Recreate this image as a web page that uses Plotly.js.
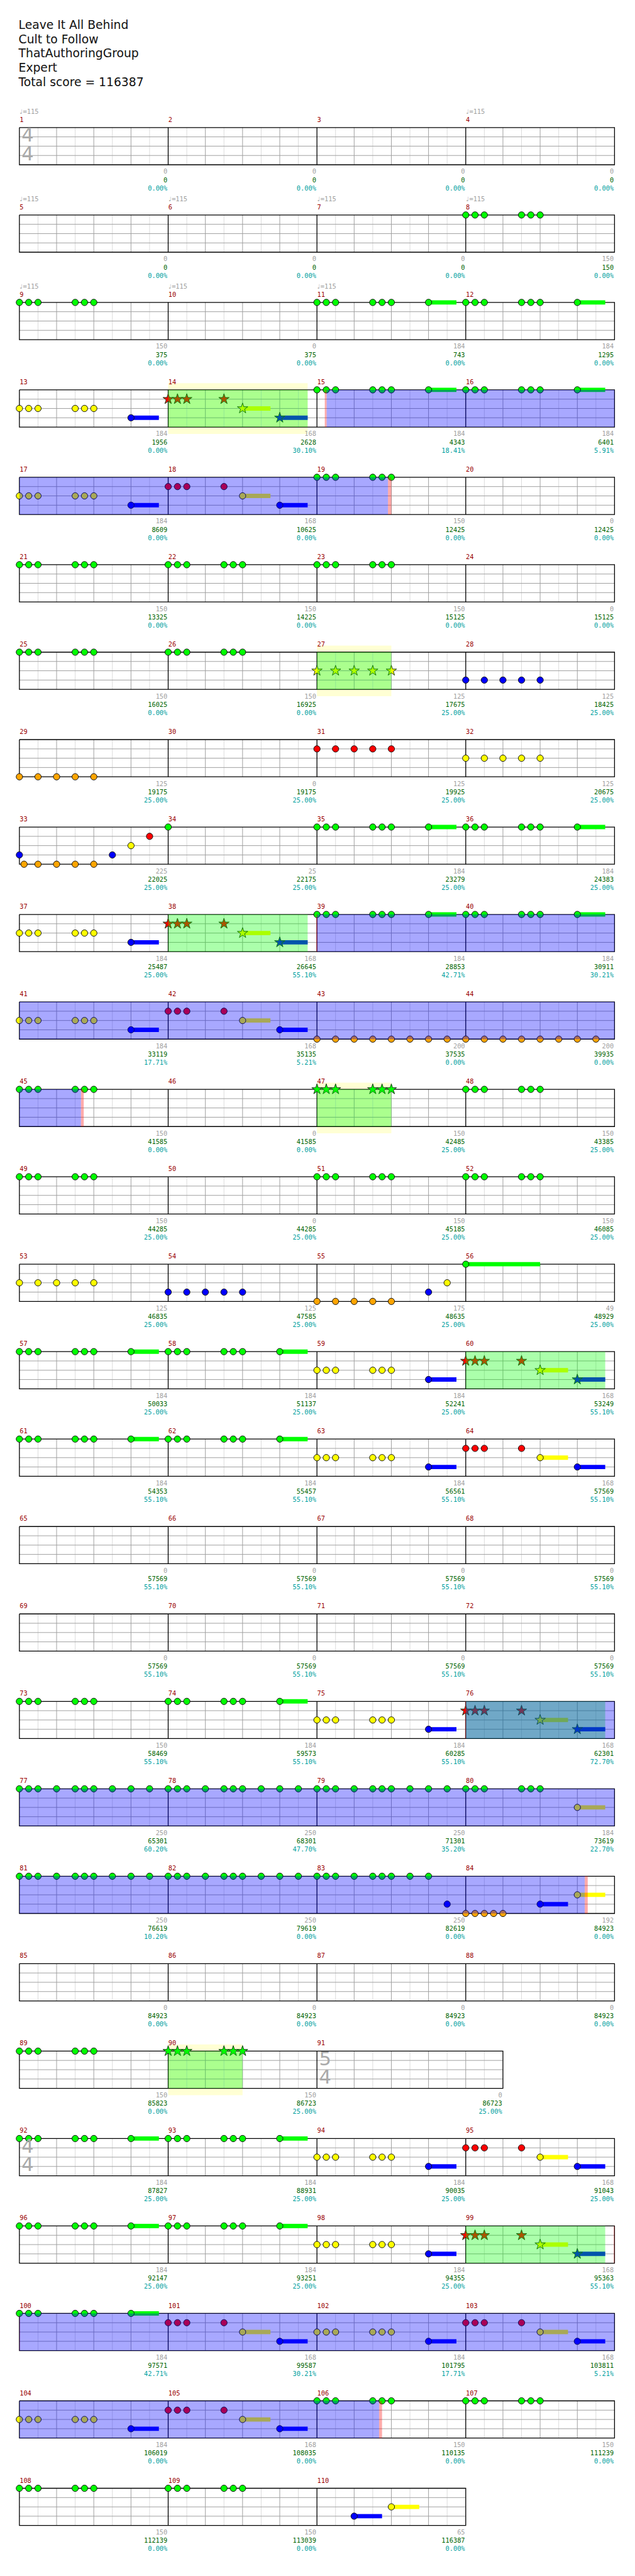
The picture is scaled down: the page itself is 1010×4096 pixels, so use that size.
<!DOCTYPE html>
<html><head><meta charset="utf-8">
<script src="https://cdn.plot.ly/plotly-3.0.1.min.js"></script>
<style>html,body{margin:0;padding:0;background:#fff}</style>
</head><body><div id="chart" style="width:1010px;height:4096px"></div>
<script>
// ================= DATA =================
const titleLines = ["Leave It All Behind", "Cult to Follow", "ThatAuthoringGroup", "Expert", "Total score = 116387"];
const measureCount = 110;
const oddMeasureBeats = {91: 5};
const timeSigs = [[1, "4", "4"], [91, "5", "4"], [92, "4", "4"]];
const tempoMeasures = [1, 4, 5, 6, 7, 8, 9, 10, 11];
const tempoLabel = "\u2669=115";

// lane letter, optional * = star note, beat within measure, optional ~sustain end beat
const measureNotes = {
  8: "G0 G.25 G.5 G1.5 G1.75 G2",
  9: "G0 G.25 G.5 G1.5 G1.75 G2",
  11: "G0 G.25 G.5 G1.5 G1.75 G2 G3~3.75",
  12: "G0 G.25 G.5 G1.5 G1.75 G2 G3~3.75",
  13: "Y0 Y.25 Y.5 Y1.5 Y1.75 Y2 B3~3.75",
  14: "R*0 R*.25 R*.5 R*1.5 Y*2~2.75 B*3~3.75",
  15: "G0 G.25 G.5 G1.5 G1.75 G2 G3~3.75",
  16: "G0 G.25 G.5 G1.5 G1.75 G2 G3~3.75",
  17: "Y0 Y.25 Y.5 Y1.5 Y1.75 Y2 B3~3.75",
  18: "R0 R.25 R.5 R1.5 Y2~2.75 B3~3.75",
  19: "G0 G.25 G.5 G1.5 G1.75 G2",
  21: "G0 G.25 G.5 G1.5 G1.75 G2",
  22: "G0 G.25 G.5 G1.5 G1.75 G2",
  23: "G0 G.25 G.5 G1.5 G1.75 G2",
  25: "G0 G.25 G.5 G1.5 G1.75 G2",
  26: "G0 G.25 G.5 G1.5 G1.75 G2",
  27: "Y*0 Y*.5 Y*1 Y*1.5 Y*2",
  28: "B0 B.5 B1 B1.5 B2",
  29: "O0 O.5 O1 O1.5 O2",
  31: "R0 R.5 R1 R1.5 R2",
  32: "Y0 Y.5 Y1 Y1.5 Y2",
  33: "B0 O.125 O.5 O1 O1.5 O2 B2.5 Y3 R3.5",
  34: "G0",
  35: "G0 G.25 G.5 G1.5 G1.75 G2 G3~3.75",
  36: "G0 G.25 G.5 G1.5 G1.75 G2 G3~3.75",
  37: "Y0 Y.25 Y.5 Y1.5 Y1.75 Y2 B3~3.75",
  38: "R*0 R*.25 R*.5 R*1.5 Y*2~2.75 B*3~3.75",
  39: "G0 G.25 G.5 G1.5 G1.75 G2 G3~3.75",
  40: "G0 G.25 G.5 G1.5 G1.75 G2 G3~3.75",
  41: "Y0 Y.25 Y.5 Y1.5 Y1.75 Y2 B3~3.75",
  42: "R0 R.25 R.5 R1.5 Y2~2.75 B3~3.75",
  43: "O0 O.5 O1 O1.5 O2 O2.5 O3 O3.5",
  44: "O0 O.5 O1 O1.5 O2 O2.5 O3 O3.5",
  45: "G0 G.25 G.5 G1.5 G1.75 G2",
  47: "G*0 G*.25 G*.5 G*1.5 G*1.75 G*2",
  48: "G0 G.25 G.5 G1.5 G1.75 G2",
  49: "G0 G.25 G.5 G1.5 G1.75 G2",
  51: "G0 G.25 G.5 G1.5 G1.75 G2",
  52: "G0 G.25 G.5 G1.5 G1.75 G2",
  53: "Y0 Y.5 Y1 Y1.5 Y2",
  54: "B0 B.5 B1 B1.5 B2",
  55: "O0 O.5 O1 O1.5 O2 B3 Y3.5",
  56: "G0~2",
  57: "G0 G.25 G.5 G1.5 G1.75 G2 G3~3.75",
  58: "G0 G.25 G.5 G1.5 G1.75 G2 G3~3.75",
  59: "Y0 Y.25 Y.5 Y1.5 Y1.75 Y2 B3~3.75",
  60: "R*0 R*.25 R*.5 R*1.5 Y*2~2.75 B*3~3.75",
  61: "G0 G.25 G.5 G1.5 G1.75 G2 G3~3.75",
  62: "G0 G.25 G.5 G1.5 G1.75 G2 G3~3.75",
  63: "Y0 Y.25 Y.5 Y1.5 Y1.75 Y2 B3~3.75",
  64: "R0 R.25 R.5 R1.5 Y2~2.75 B3~3.75",
  73: "G0 G.25 G.5 G1.5 G1.75 G2",
  74: "G0 G.25 G.5 G1.5 G1.75 G2 G3~3.75",
  75: "Y0 Y.25 Y.5 Y1.5 Y1.75 Y2 B3~3.75",
  76: "R*0 R*.25 R*.5 R*1.5 Y*2~2.75 B*3~3.75",
  77: "G0 G.25 G.5 G1 G1.5 G1.75 G2 G2.5 G3 G3.5",
  78: "G0 G.25 G.5 G1 G1.5 G1.75 G2 G2.5 G3 G3.5",
  79: "G0 G.25 G.5 G1 G1.5 G1.75 G2 G2.5 G3 G3.5",
  80: "G0 G.25 G.5 G1.5 G1.75 G2 Y3~3.75",
  81: "G0 G.25 G.5 G1 G1.5 G1.75 G2 G2.5 G3 G3.5",
  82: "G0 G.25 G.5 G1 G1.5 G1.75 G2 G2.5 G3 G3.5",
  83: "G0 G.25 G.5 G1 G1.5 G1.75 G2 G2.5 G3 B3.5",
  84: "O0 O.25 O.5 O.75 O1 B2~2.75 Y3~3.75",
  89: "G0 G.25 G.5 G1.5 G1.75 G2",
  90: "G*0 G*.25 G*.5 G*1.5 G*1.75 G*2",
  92: "G0 G.25 G.5 G1.5 G1.75 G2 G3~3.75",
  93: "G0 G.25 G.5 G1.5 G1.75 G2 G3~3.75",
  94: "Y0 Y.25 Y.5 Y1.5 Y1.75 Y2 B3~3.75",
  95: "R0 R.25 R.5 R1.5 Y2~2.75 B3~3.75",
  96: "G0 G.25 G.5 G1.5 G1.75 G2 G3~3.75",
  97: "G0 G.25 G.5 G1.5 G1.75 G2 G3~3.75",
  98: "Y0 Y.25 Y.5 Y1.5 Y1.75 Y2 B3~3.75",
  99: "R*0 R*.25 R*.5 R*1.5 Y*2~2.75 B*3~3.75",
  100: "G0 G.25 G.5 G1.5 G1.75 G2 G3~3.75",
  101: "R0 R.25 R.5 R1.5 Y2~2.75 B3~3.75",
  102: "Y0 Y.25 Y.5 Y1.5 Y1.75 Y2 B3~3.75",
  103: "R0 R.25 R.5 R1.5 Y2~2.75 B3~3.75",
  104: "Y0 Y.25 Y.5 Y1.5 Y1.75 Y2 B3~3.75",
  105: "R0 R.25 R.5 R1.5 Y2~2.75 B3~3.75",
  106: "G0 G.25 G.5 G1.5 G1.75 G2",
  107: "G0 G.25 G.5 G1.5 G1.75 G2",
  108: "G0 G.25 G.5 G1.5 G1.75 G2",
  109: "G0 G.25 G.5 G1.5 G1.75 G2",
  110: "B1~1.75 Y2~2.75"
};

const measureScore = [0,0,0,0, 0,0,0,150, 150,0,184,184, 184,168,184,184, 184,168,150,0,
  150,150,150,0, 150,150,125,125, 125,0,125,125, 225,25,184,184, 184,168,184,184,
  184,168,200,200, 150,0,150,150, 150,0,150,150, 125,125,175,49, 184,184,184,168,
  184,184,184,168, 0,0,0,0, 0,0,0,0, 150,184,184,168, 250,250,250,184,
  250,250,250,192, 0,0,0,0, 150,150,0, 184,184,184,168, 184,184,184,168,
  184,168,184,168, 184,168,150,150, 150,150,65];
const totalScore = [0,0,0,0, 0,0,0,150, 375,375,743,1295, 1956,2628,4343,6401, 8609,10625,12425,12425,
  13325,14225,15125,15125, 16025,16925,17675,18425, 19175,19175,19925,20675, 22025,22175,23279,24383,
  25487,26645,28853,30911, 33119,35135,37535,39935, 41585,41585,42485,43385, 44285,44285,45185,46085,
  46835,47585,48635,48929, 50033,51137,52241,53249, 54353,55457,56561,57569, 57569,57569,57569,57569,
  57569,57569,57569,57569, 58469,59573,60285,62301, 65301,68301,71301,73619, 76619,79619,82619,84923,
  84923,84923,84923,84923, 85823,86723,86723, 87827,88931,90035,91043, 92147,93251,94355,95363,
  97571,99587,101795,103811, 106019,108035,110135,111239, 112139,113039,116387];
const spPercent = ["0.00%","0.00%","0.00%","0.00%", "0.00%","0.00%","0.00%","0.00%", "0.00%","0.00%","0.00%","0.00%",
  "0.00%","30.10%","18.41%","5.91%", "0.00%","0.00%","0.00%","0.00%", "0.00%","0.00%","0.00%","0.00%",
  "0.00%","0.00%","25.00%","25.00%", "25.00%","25.00%","25.00%","25.00%", "25.00%","25.00%","25.00%","25.00%",
  "25.00%","55.10%","42.71%","30.21%", "17.71%","5.21%","0.00%","0.00%", "0.00%","0.00%","25.00%","25.00%",
  "25.00%","25.00%","25.00%","25.00%", "25.00%","25.00%","25.00%","25.00%", "25.00%","25.00%","25.00%","55.10%",
  "55.10%","55.10%","55.10%","55.10%", "55.10%","55.10%","55.10%","55.10%", "55.10%","55.10%","55.10%","55.10%",
  "55.10%","55.10%","55.10%","72.70%", "60.20%","47.70%","35.20%","22.70%", "10.20%","0.00%","0.00%","0.00%",
  "0.00%","0.00%","0.00%","0.00%", "0.00%","25.00%","25.00%", "25.00%","25.00%","25.00%","25.00%",
  "25.00%","25.00%","25.00%","55.10%", "42.71%","30.21%","17.71%","5.21%", "0.00%","0.00%","0.00%","0.00%",
  "0.00%","0.00%","0.00%"];

// spans: [startMeasure, startBeat, endMeasure, endBeat]
const phraseSpans = [[14,0,14,3.75],[27,0,27,2],[38,0,38,3.75],[47,0,47,2],[60,0,60,3.75],
  [76,0,76,3.75],[90,0,90,2],[99,0,99,3.75]];
const bandSpans = [[14,0,14,3.75],[27,0,27,2],[47,0,47,2],[90,0,90,2]];
const activationSpans = [[15,0.26,19,1.91],[39,0,45,1.655],[76,0,84,3.2],[100,0,106,1.67]];
const markerSpans = [[15,0.21,15,0.26],[19,1.91,19,2.0],[38,3.98,39,0.01],[45,1.655,45,1.73],
  [75,3.98,76,0.01],[84,3.2,84,3.28],[99,3.98,100,0.01],[106,1.67,106,1.75]];

// ================= LAYOUT HELPERS =================
const S = 0.986;                 // page scale
const PXB = 60, PXL = 15;        // reference px per beat / per lane
const LEFT = 31.3, TOP0 = 205.7, ROWSTEP = 141;
const W = 1010, H = 4096;
const beatsOf = m => oddMeasureBeats[m] || 4;
const rowOf = {}, xOf = {}, absOf = {};
const rowAbsStart = [], rowWidth = [];
let r = 0, x = 0, abs = 0;
rowAbsStart.push(0);
for (let m = 1; m <= measureCount; m++) {
  const b = beatsOf(m);
  if (x + b > 16) { rowWidth.push(x); r++; x = 0; rowAbsStart.push(abs); }
  rowOf[m] = r; xOf[m] = x; absOf[m] = abs; x += b; abs += b;
}
rowWidth.push(x);
const nRows = r + 1;
const rowTop = k => (TOP0 + ROWSTEP * k) / PXL;   // in lane units (y downward)
const px2y = p => p / PXL;

function splitSpan(sp) {
  const A1 = absOf[sp[0]] + sp[1], A2 = absOf[sp[2]] + sp[3];
  const out = [];
  for (let k = 0; k < nRows; k++) {
    const rs = rowAbsStart[k], re = rs + rowWidth[k];
    const a = Math.max(A1, rs), b = Math.min(A2, re);
    if (b > a) out.push([k, a - rs, b - rs]);
  }
  return out;
}
function rectTrace(spans, padTop, padBot, color) {
  const xs = [], ys = [];
  spans.forEach(sp => splitSpan(sp).forEach(([k, a, b]) => {
    const t = rowTop(k) - padTop, bt = rowTop(k) + 4 + padBot;
    xs.push(a, b, b, a, a, null); ys.push(t, t, bt, bt, t, null);
  }));
  return {type: 'scatter', mode: 'lines', x: xs, y: ys, fill: 'toself', fillcolor: color,
          line: {width: 0, color: 'rgba(0,0,0,0)'}, hoverinfo: 'skip'};
}
function lineTrace(xs, ys, color, width) {
  return {type: 'scatter', mode: 'lines', x: xs, y: ys, line: {color: color, width: width},
          hoverinfo: 'skip', connectgaps: false};
}

const traces = [];
traces.push(rectTrace(bandSpans, px2y(10.7), px2y(11), 'rgba(255,255,0,0.17)'));

const lx = [], ly = [], gx = [], gy = [], kx = [], ky = [];
for (let k = 0; k < nRows; k++) {
  const t = rowTop(k), b = t + 4, w = rowWidth[k];
  for (let h = 0.5; h < w; h += 1) { lx.push(h, h, null); ly.push(t, b, null); }
  for (let l = 1; l <= 3; l++) { gx.push(0, w, null); gy.push(t + l, t + l, null); }
}
for (let m = 1; m <= measureCount; m++) {
  const k = rowOf[m], t = rowTop(k), b = t + 4;
  for (let q = 1; q < beatsOf(m); q++) { gx.push(xOf[m] + q, xOf[m] + q, null); gy.push(t, b, null); }
  if (xOf[m] > 0) { kx.push(xOf[m], xOf[m], null); ky.push(t, b, null); }
}
for (let k = 0; k < nRows; k++) {
  const t = rowTop(k), b = t + 4, w = rowWidth[k];
  kx.push(0, w, w, 0, 0, null); ky.push(t, t, b, b, t, null);
}
traces.push(lineTrace(lx, ly, '#dcdcdc', 1));
traces.push(lineTrace(gx, gy, '#a0a0a0', 1));
traces.push(lineTrace(kx, ky, '#000000', 1.3));

const laneIdx = {G: 0, R: 1, Y: 2, B: 3, O: 4};
const laneCol = {G: '#00ff00', R: '#ff0000', Y: '#ffff00', B: '#0000ff', O: '#ffa500'};
const sus = {G: [[], []], R: [[], []], Y: [[], []], B: [[], []], O: [[], []]};
const cN = {x: [], y: [], c: []}, sN = {x: [], y: [], c: []};
Object.keys(measureNotes).forEach(key => {
  const m = +key;
  measureNotes[key].split(/\s+/).forEach(tok => {
    const mt = tok.match(/^([GRYBO])(\*?)([\d.]+)(?:~([\d.]+))?$/);
    if (!mt) return;
    const L = mt[1], star = mt[2] === '*', beat = parseFloat(mt[3]);
    const xx = xOf[m] + beat, yy = rowTop(rowOf[m]) + laneIdx[L];
    if (mt[4] !== undefined) {
      sus[L][0].push(xx, xOf[m] + parseFloat(mt[4]), null);
      sus[L][1].push(yy, yy, null);
    }
    const tgt = star ? sN : cN;
    tgt.x.push(xx); tgt.y.push(yy); tgt.c.push(laneCol[L]);
  });
});
Object.keys(sus).forEach(L => traces.push(lineTrace(sus[L][0], sus[L][1], laneCol[L], 7 * S)));
traces.push({type: 'scatter', mode: 'markers', x: cN.x, y: cN.y, hoverinfo: 'skip',
  marker: {symbol: 'circle', size: 10.2, color: cN.c, line: {color: '#111', width: 1}}});
traces.push({type: 'scatter', mode: 'markers', x: sN.x, y: sN.y, hoverinfo: 'skip',
  marker: {symbol: 'star', size: 12.5, color: sN.c, line: {color: '#1a3a1a', width: 1}}});

traces.push(rectTrace(phraseSpans, 0, 0, 'rgba(0,255,0,0.33)'));
traces.push(rectTrace(activationSpans, 0, 0, 'rgba(0,0,255,0.34)'));
traces.push(rectTrace(markerSpans, 0, 0, 'rgba(255,0,0,0.33)'));

const monoFont = 'DejaVu Sans Mono, monospace';
function textTrace(xs, ys, texts, color, size, pos, family) {
  return {type: 'scatter', mode: 'text', x: xs, y: ys, text: texts, textposition: pos,
    textfont: {family: family || monoFont, size: size * S, color: color}, hoverinfo: 'skip'};
}
traces.push(textTrace(titleLines.map(() => (30 - LEFT) / PXB), titleLines.map((_, i) => px2y(42 + 23 * i)),
  titleLines, '#111111', 19, 'middle right', 'DejaVu Sans, sans-serif'));
const mnX = [], mnY = [], mnT = [];
const scX = [], g1 = [], g2 = [], g3 = [], t1 = [], t2 = [], t3 = [];
for (let m = 1; m <= measureCount; m++) {
  const k = rowOf[m];
  mnX.push(xOf[m] + 0.005); mnY.push(rowTop(k) - px2y(11.7)); mnT.push(String(m));
  scX.push(xOf[m] + beatsOf(m) - 0.02);
  g1.push(rowTop(k) + 4 + px2y(12)); g2.push(rowTop(k) + 4 + px2y(25.3)); g3.push(rowTop(k) + 4 + px2y(38.5));
  t1.push(String(measureScore[m - 1])); t2.push(String(totalScore[m - 1])); t3.push(spPercent[m - 1]);
}
traces.push(textTrace(mnX, mnY, mnT, '#990000', 10.5, 'middle right'));
traces.push(textTrace(scX, g1, t1, '#a0a0a0', 10.5, 'middle left'));
traces.push(textTrace(scX, g2, t2, '#006400', 10.5, 'middle left'));
traces.push(textTrace(scX, g3, t3, '#00a0a0', 10.5, 'middle left'));
traces.push(textTrace(tempoMeasures.map(m => xOf[m] - 0.01), tempoMeasures.map(m => rowTop(rowOf[m]) - px2y(24.5)),
  tempoMeasures.map(() => tempoLabel), '#a0a0a0', 10.5, 'middle right'));
const tsX = [], tsY = [], tsT = [];
timeSigs.forEach(([m, a, b]) => {
  tsX.push(xOf[m] + (44.5 - LEFT) / PXB, xOf[m] + (44.5 - LEFT) / PXB);
  tsY.push(rowTop(rowOf[m]) + 1, rowTop(rowOf[m]) + 3);
  tsT.push(a, b);
});
traces.push(textTrace(tsX, tsY, tsT, '#aaaaaa', 31, 'middle center', 'DejaVu Sans, sans-serif'));

const layout = {
  width: W, height: H, margin: {l: 0, r: 0, t: 0, b: 0},
  paper_bgcolor: '#ffffff', plot_bgcolor: '#ffffff', showlegend: false,
  xaxis: {range: [-LEFT / PXB, -LEFT / PXB + W / (PXB * S)], visible: false, fixedrange: true},
  yaxis: {range: [H / (PXL * S), 0], visible: false, fixedrange: true}
};
Plotly.newPlot('chart', traces, layout, {staticPlot: true, displayModeBar: false});
</script></body></html>
